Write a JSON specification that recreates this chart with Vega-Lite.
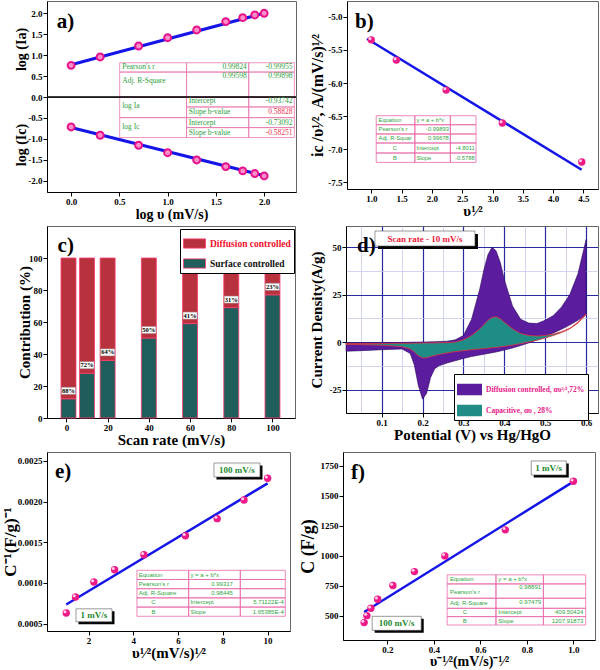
{
"$schema":"https://vega.github.io/schema/vega-lite/v6.json",
"padding":0,
"background":"#ffffff",
"spacing":3,
"resolve":{"legend":{"color":"independent","fill":"independent"}},
"datasets":{
 "aIa":[{"x":0,"y":0.755},{"x":0.301,"y":0.955},{"x":0.699,"y":1.217},{"x":1,"y":1.415},{"x":1.301,"y":1.6},{"x":1.602,"y":1.798},{"x":1.778,"y":1.893},{"x":1.903,"y":1.957},{"x":2,"y":1.997}],
 "aIc":[{"x":0,"y":-0.716},{"x":0.301,"y":-0.914},{"x":0.699,"y":-1.153},{"x":1,"y":-1.33},{"x":1.301,"y":-1.504},{"x":1.602,"y":-1.663},{"x":1.778,"y":-1.766},{"x":1.903,"y":-1.83},{"x":2,"y":-1.885}],
 "bPts":[{"x":1,"y":-5.347},{"x":1.414,"y":-5.653},{"x":2.236,"y":-6.106},{"x":3.162,"y":-6.603},{"x":4.472,"y":-7.192}],
 "ePts":[{"x":1,"y":0.000631},{"x":1.414,"y":0.000828},{"x":2.236,"y":0.001013},{"x":3.162,"y":0.001163},{"x":4.472,"y":0.001348},{"x":6.325,"y":0.00158},{"x":7.746,"y":0.001791},{"x":8.944,"y":0.00202},{"x":10,"y":0.002287}],
 "fPts":[{"x":1,"y":1620},{"x":0.7071,"y":1215},{"x":0.4472,"y":998},{"x":0.3162,"y":867},{"x":0.2236,"y":751},{"x":0.1581,"y":636},{"x":0.1291,"y":561},{"x":0.1118,"y":500},{"x":0.1,"y":442}],
 "cv":[
  {"x":0.013,"ou":-0.4,"ol":-4.8,"iu":-0.7,"il":-1.2},
  {"x":0.05,"ou":-0.4,"ol":-4.5,"iu":-0.7,"il":-1.3},
  {"x":0.1,"ou":-0.3,"ol":-4.0,"iu":-0.7,"il":-1.6},
  {"x":0.15,"ou":-0.2,"ol":-3.6,"iu":-0.6,"il":-2.4},
  {"x":0.17,"ou":-0.1,"ol":-6.0,"iu":-0.6,"il":-3.6},
  {"x":0.18,"ou":0,"ol":-12,"iu":-0.5,"il":-5.2},
  {"x":0.19,"ou":0,"ol":-23,"iu":-0.5,"il":-7.2},
  {"x":0.2,"ou":0.1,"ol":-30,"iu":-0.5,"il":-8.3},
  {"x":0.21,"ou":0.1,"ol":-27,"iu":-0.4,"il":-8.2},
  {"x":0.22,"ou":0.2,"ol":-18.5,"iu":-0.4,"il":-7.6},
  {"x":0.23,"ou":0.2,"ol":-14,"iu":-0.4,"il":-7.0},
  {"x":0.24,"ou":0.3,"ol":-12.5,"iu":-0.3,"il":-6.5},
  {"x":0.26,"ou":0.5,"ol":-11,"iu":-0.3,"il":-5.7},
  {"x":0.28,"ou":1.2,"ol":-9.8,"iu":0,"il":-5.0},
  {"x":0.3,"ou":3.5,"ol":-8.6,"iu":1.2,"il":-4.5},
  {"x":0.32,"ou":12,"ol":-7.6,"iu":3.5,"il":-4.0},
  {"x":0.34,"ou":28,"ol":-6.8,"iu":7,"il":-3.6},
  {"x":0.35,"ou":38,"ol":-6.4,"iu":9.2,"il":-3.4},
  {"x":0.36,"ou":46,"ol":-6.0,"iu":11.5,"il":-3.2},
  {"x":0.37,"ou":50,"ol":-5.6,"iu":13,"il":-3.0},
  {"x":0.38,"ou":48,"ol":-5.2,"iu":13.3,"il":-2.8},
  {"x":0.39,"ou":42,"ol":-4.7,"iu":12.3,"il":-2.5},
  {"x":0.4,"ou":33,"ol":-4.2,"iu":10.5,"il":-2.2},
  {"x":0.42,"ou":19,"ol":-3.1,"iu":7,"il":-1.6},
  {"x":0.44,"ou":12,"ol":-1.8,"iu":4.5,"il":-0.8},
  {"x":0.46,"ou":10,"ol":-0.4,"iu":3.5,"il":0},
  {"x":0.48,"ou":9.8,"ol":1.2,"iu":3.2,"il":1},
  {"x":0.5,"ou":11.5,"ol":3,"iu":3.5,"il":2.2},
  {"x":0.52,"ou":14,"ol":4.8,"iu":4.3,"il":3.5},
  {"x":0.54,"ou":18.5,"ol":6.8,"iu":5.5,"il":5},
  {"x":0.56,"ou":25,"ol":9,"iu":7.3,"il":7},
  {"x":0.58,"ou":36,"ol":11.5,"iu":10.5,"il":10},
  {"x":0.6,"ou":54,"ol":14.5,"iu":14.8,"il":14.5}
 ]
},
"config":{
 "view":{"stroke":"#666666","strokeWidth":1},
 "font":"Liberation Serif",
 "axis":{"labelFont":"Liberation Serif","labelFontWeight":"bold","labelFontSize":9,"labelColor":"#000","titleFont":"Liberation Serif","titleFontWeight":"bold","titleColor":"#000","tickColor":"#000","tickSize":4,"domainColor":"#000","labelPadding":1,"grid":false,"labelExpr":"replace(datum.label, '\u2212', '-')"}
},
"vconcat":[
 {"spacing":10,"hconcat":[
  {"spacing":0,"bounds":"flush","vconcat":[
   {"width":249,"height":96,
    "encoding":{
     "x":{"field":"x","type":"quantitative","scale":{"domain":[-0.25,2.33],"nice":false,"zero":false},"axis":null},
     "y":{"field":"y","type":"quantitative","scale":{"domain":[0,2.29],"nice":false,"zero":false},"axis":{"values":[0.5,1,1.5,2],"format":".1f","title":"log (Ia)","titleFontSize":14,"minExtent":18,"maxExtent":18,"titlePadding":1}}
    },
    "layer":[
     {"data":{"values":[{"x":0.503,"x2":1.196,"y":0.595,"y2":0.817},{"x":1.196,"x2":1.84,"y":0.595,"y2":0.817},{"x":1.84,"x2":2.313,"y":0.595,"y2":0.817},{"x":0.503,"x2":1.196,"y":0,"y2":0.595},{"x":1.196,"x2":1.84,"y":0,"y2":0.595},{"x":1.84,"x2":2.313,"y":0,"y2":0.595}]},
      "mark":{"type":"rect","fill":"#ffffff","fillOpacity":0,"stroke":"#ea7ab0","strokeWidth":0.8},
      "encoding":{"x2":{"field":"x2"},"y2":{"field":"y2"}}},
     {"data":{"values":[{"x":0.53,"y":0.706,"t":"Pearson's r"},{"x":0.53,"y":0.38,"t":"Adj. R-Square"}]},
      "mark":{"type":"text","align":"left","baseline":"middle","font":"Liberation Serif","fontSize":7.5,"color":"#2e9e3e"},
      "encoding":{"text":{"field":"t"}}},
     {"data":{"values":[{"x":1.82,"y":0.706,"t":"0.99824"},{"x":2.295,"y":0.706,"t":"-0.99955"},{"x":1.82,"y":0.5,"t":"0.99598"},{"x":2.295,"y":0.5,"t":"0.99898"}]},
      "mark":{"type":"text","align":"right","baseline":"middle","font":"Liberation Serif","fontSize":7.5,"color":"#2e9e3e"},
      "encoding":{"text":{"field":"t"}}},
     {"data":{"values":[{"x":0,"y":0.77},{"x":2,"y":2.0}]},"mark":{"type":"line","color":"#1515e8","strokeWidth":3}},
     {"data":{"name":"aIa"},"mark":{"type":"circle","size":48,"fill":"#ff8ec8","stroke":"#e6128c","strokeWidth":2,"opacity":1}},
     {"data":{"values":[{"x":-0.149,"y":1.646,"t":"a)"}]},"mark":{"type":"text","align":"left","baseline":"alphabetic","font":"Liberation Serif","fontWeight":"bold","fontSize":21,"color":"#000"},"encoding":{"text":{"field":"t"}}}
    ]
   },
   {"width":249,"height":95,
    "encoding":{
     "x":{"field":"x","type":"quantitative","scale":{"domain":[-0.25,2.33],"nice":false,"zero":false},"axis":{"values":[0,0.5,1,1.5,2],"format":".1f","title":"log υ (mV/s)","titleFontSize":14,"titlePadding":1}},
     "y":{"field":"y","type":"quantitative","scale":{"domain":[-2.27,0],"nice":false,"zero":false},"axis":{"values":[0,-0.5,-1,-1.5,-2],"format":".1f","title":"log (Ic)","titleFontSize":14,"minExtent":18,"maxExtent":18,"titlePadding":1}}
    },
    "layer":[
     {"data":{"values":[{"x":0.503,"x2":1.196,"y":-0.493,"y2":0},{"x":0.503,"x2":1.196,"y":-0.969,"y2":-0.493},{"x":1.196,"x2":1.84,"y":-0.238,"y2":0},{"x":1.196,"x2":1.84,"y":-0.493,"y2":-0.238},{"x":1.196,"x2":1.84,"y":-0.731,"y2":-0.493},{"x":1.196,"x2":1.84,"y":-0.969,"y2":-0.731},{"x":1.84,"x2":2.313,"y":-0.238,"y2":0},{"x":1.84,"x2":2.313,"y":-0.493,"y2":-0.238},{"x":1.84,"x2":2.313,"y":-0.731,"y2":-0.493},{"x":1.84,"x2":2.313,"y":-0.969,"y2":-0.731}]},
      "mark":{"type":"rect","fill":"#ffffff","fillOpacity":0,"stroke":"#ea7ab0","strokeWidth":0.8},
      "encoding":{"x2":{"field":"x2"},"y2":{"field":"y2"}}},
     {"data":{"values":[{"x":-0.25,"x2":2.33,"y":0}]},"mark":{"type":"rule","color":"#000","strokeWidth":1.6},"encoding":{"x2":{"field":"x2"}}},
     {"data":{"values":[{"x":0.53,"y":-0.22,"t":"log Ia"},{"x":0.53,"y":-0.71,"t":"log Ic"},{"x":1.22,"y":-0.1,"t":"Intercept"},{"x":1.22,"y":-0.366,"t":"Slope b-value"},{"x":1.22,"y":-0.612,"t":"Intercept"},{"x":1.22,"y":-0.85,"t":"Slope b-value"}]},
      "mark":{"type":"text","align":"left","baseline":"middle","font":"Liberation Serif","fontSize":7.5,"color":"#2e9e3e"},
      "encoding":{"text":{"field":"t"}}},
     {"data":{"values":[{"x":2.295,"y":-0.1,"t":"-0.93742"},{"x":2.295,"y":-0.612,"t":"-0.73092"}]},
      "mark":{"type":"text","align":"right","baseline":"middle","font":"Liberation Serif","fontSize":7.5,"color":"#2e9e3e"},
      "encoding":{"text":{"field":"t"}}},
     {"data":{"values":[{"x":2.295,"y":-0.366,"t":"0.58828"},{"x":2.295,"y":-0.85,"t":"-0.58251"}]},
      "mark":{"type":"text","align":"right","baseline":"middle","font":"Liberation Serif","fontSize":7.5,"color":"#f0304a"},
      "encoding":{"text":{"field":"t"}}},
     {"data":{"values":[{"x":0,"y":-0.73},{"x":2,"y":-1.88}]},"mark":{"type":"line","color":"#1515e8","strokeWidth":3}},
     {"data":{"name":"aIc"},"mark":{"type":"circle","size":48,"fill":"#ff8ec8","stroke":"#e6128c","strokeWidth":2,"opacity":1}}
    ]
   }
  ]},
  {"width":251,"height":188,
   "encoding":{
    "x":{"field":"x","type":"quantitative","scale":{"domain":[0.6,4.74],"nice":false,"zero":false},"axis":{"values":[1,1.5,2,2.5,3,3.5,4,4.5],"format":".1f","title":"υ¹⁄²","titleFontSize":15,"titlePadding":0}},
    "y":{"field":"y","type":"quantitative","scale":{"domain":[-7.6,-4.76],"nice":false,"zero":false},"axis":{"values":[-7.5,-7,-6.5,-6,-5.5,-5],"format":".1f","title":"ic /υ¹⁄², A/(mV/s)¹⁄²","titleFontSize":16,"minExtent":20,"maxExtent":20,"titlePadding":2}}
   },
   "layer":[
    {"data":{"values":[
      {"x":1.082,"x2":1.719,"y":-6.629,"y2":-6.493},{"x":1.719,"x2":2.305,"y":-6.629,"y2":-6.493},{"x":2.305,"x2":2.728,"y":-6.629,"y2":-6.493},
      {"x":1.082,"x2":1.719,"y":-6.769,"y2":-6.629},{"x":1.719,"x2":2.305,"y":-6.769,"y2":-6.629},{"x":2.305,"x2":2.728,"y":-6.769,"y2":-6.629},
      {"x":1.082,"x2":1.719,"y":-6.905,"y2":-6.769},{"x":1.719,"x2":2.305,"y":-6.905,"y2":-6.769},{"x":2.305,"x2":2.728,"y":-6.905,"y2":-6.769},
      {"x":1.082,"x2":1.719,"y":-7.056,"y2":-6.905},{"x":1.719,"x2":2.305,"y":-7.056,"y2":-6.905},{"x":2.305,"x2":2.728,"y":-7.056,"y2":-6.905},
      {"x":1.082,"x2":1.719,"y":-7.198,"y2":-7.056},{"x":1.719,"x2":2.305,"y":-7.198,"y2":-7.056},{"x":2.305,"x2":2.728,"y":-7.198,"y2":-7.056}]},
     "mark":{"type":"rect","fill":"#ffffff","fillOpacity":0,"stroke":"#ea6aa8","strokeWidth":0.8},
     "encoding":{"x2":{"field":"x2"},"y2":{"field":"y2"}}},
    {"data":{"values":[{"x":1.12,"y":-6.561,"t":"Equation"},{"x":1.745,"y":-6.561,"t":"y = a + b*x"},{"x":1.12,"y":-6.699,"t":"Pearson's r"},{"x":1.12,"y":-6.837,"t":"Adj. R-Squar"},{"x":1.745,"y":-6.98,"t":"Intercept"},{"x":1.745,"y":-7.127,"t":"Slope"}]},
     "mark":{"type":"text","align":"left","baseline":"middle","font":"Liberation Sans","fontSize":5.8,"color":"#33a344"},
     "encoding":{"text":{"field":"t"}}},
    {"data":{"values":[{"x":2.28,"y":-6.699,"t":"-0.99893"},{"x":2.28,"y":-6.837,"t":"0.99678"},{"x":2.707,"y":-6.98,"t":"-4.8011"},{"x":2.707,"y":-7.127,"t":"-0.5788"}]},
     "mark":{"type":"text","align":"right","baseline":"middle","font":"Liberation Sans","fontSize":5.8,"color":"#33a344"},
     "encoding":{"text":{"field":"t"}}},
    {"data":{"values":[{"x":1.39,"y":-6.98,"t":"C"},{"x":1.39,"y":-7.127,"t":"B"}]},
     "mark":{"type":"text","align":"center","baseline":"middle","font":"Liberation Sans","fontSize":5.8,"color":"#33a344"},
     "encoding":{"text":{"field":"t"}}},
    {"data":{"values":[{"x":0.93,"y":-5.33},{"x":4.47,"y":-7.31}]},"mark":{"type":"line","color":"#1515e8","strokeWidth":2.5}},
    {"data":{"name":"bPts"},"mark":{"type":"circle","size":55,"fill":"#ee1a88","opacity":1}},
    {"data":{"name":"bPts"},"mark":{"type":"circle","size":9,"fill":"#ffd2ea","opacity":1,"xOffset":-1.3,"yOffset":-1.3}},
    {"data":{"values":[{"x":0.732,"y":-5.167,"t":"b)"}]},"mark":{"type":"text","align":"left","baseline":"alphabetic","font":"Liberation Serif","fontWeight":"bold","fontSize":21,"color":"#000"},"encoding":{"text":{"field":"t"}}}
   ]
  }
 ]},
 {"spacing":12,"resolve":{"legend":{"color":"independent","fill":"independent"}},"hconcat":[
  {"width":248,"height":192,
   "encoding":{
    "x":{"field":"rate","type":"quantitative","scale":{"domain":[-7,108.5],"nice":false,"zero":false},"axis":{"values":[0,20,40,60,80,100],"title":"Scan rate (mV/s)","titleFontSize":15,"titlePadding":0}},
    "y":{"field":"pct","type":"quantitative","scale":{"domain":[0,120],"nice":false,"zero":false},"axis":{"values":[0,20,40,60,80,100],"title":"Contribution (%)","titleFontSize":15,"minExtent":15,"maxExtent":15,"titlePadding":0}}
   },
   "layer":[
    {"data":{"values":[
      {"rate":1,"type":"Surface controlled","pct":12},{"rate":1,"type":"Diffusion controlled","pct":88},
      {"rate":10,"type":"Surface controlled","pct":28},{"rate":10,"type":"Diffusion controlled","pct":72},
      {"rate":20,"type":"Surface controlled","pct":36},{"rate":20,"type":"Diffusion controlled","pct":64},
      {"rate":40,"type":"Surface controlled","pct":50},{"rate":40,"type":"Diffusion controlled","pct":50},
      {"rate":60,"type":"Surface controlled","pct":59},{"rate":60,"type":"Diffusion controlled","pct":41},
      {"rate":80,"type":"Surface controlled","pct":69},{"rate":80,"type":"Diffusion controlled","pct":31},
      {"rate":100,"type":"Surface controlled","pct":77},{"rate":100,"type":"Diffusion controlled","pct":23}]},
     "mark":{"type":"bar","width":15,"stroke":"#ff3c6e","strokeWidth":0.8},
     "encoding":{
      "color":{"field":"type","type":"nominal","scale":{"domain":["Diffusion controlled","Surface controlled"],"range":["#b8323e","#1f5e5b"]},
        "legend":{"orient":"none","legendX":133,"legendY":3,"title":null,"fillColor":"#ffffff","strokeColor":"#000000","padding":3,"symbolType":"M-1,-0.42H1V0.42H-1Z","symbolSize":484,"symbolStrokeColor":"#ff3c6e","symbolStrokeWidth":0.8,"labelFont":"Liberation Serif","labelFontWeight":"bold","labelFontSize":9.5,"rowPadding":2,
          "encode":{"labels":{"update":{"fill":{"signal":"datum.label === 'Diffusion controlled' ? '#f0102a' : '#111111'"}}}}}},
      "order":{"field":"type","sort":"descending"}
     }},
    {"data":{"values":[{"rate":1,"pct":12,"t":"88%"},{"rate":10,"pct":28,"t":"72%"},{"rate":20,"pct":36,"t":"64%"},{"rate":40,"pct":50,"t":"50%"},{"rate":60,"pct":59,"t":"41%"},{"rate":80,"pct":69,"t":"31%"},{"rate":100,"pct":77,"t":"23%"}]},
     "layer":[
      {"mark":{"type":"point","shape":"M-1,-0.5H1V0.5H-1Z","size":196,"filled":true,"fill":"#ffffff","stroke":"#999999","strokeWidth":0.5,"opacity":1,"yOffset":-8}},
      {"mark":{"type":"text","font":"Liberation Serif","fontWeight":"bold","fontSize":6.5,"color":"#000","baseline":"middle","yOffset":-8},"encoding":{"text":{"field":"t"}}}
     ]},
    {"data":{"values":[{"rate":-4.29,"pct":103.6,"t":"c)"}]},"mark":{"type":"text","align":"left","baseline":"alphabetic","font":"Liberation Serif","fontWeight":"bold","fontSize":21,"color":"#000"},"encoding":{"text":{"field":"t"}}}
   ]
  },
  {"width":252,"height":187,
   "resolve":{"axis":{"x":"independent","y":"independent"}},
   "layer":[
    {"data":{"name":"cv"},"mark":{"type":"area","stroke":"#2a0860","strokeWidth":0.6},
     "encoding":{
      "x":{"field":"x","type":"quantitative","scale":{"domain":[0.013,0.629],"nice":false,"zero":false},"axis":{"orient":"bottom","values":[0.05,0.1,0.15,0.2,0.25,0.3,0.35,0.4,0.45,0.5,0.55,0.6],"grid":true,"gridColor":"#c6c6ee","gridWidth":0.8,"labels":false,"ticks":false,"domain":false,"title":null,"minExtent":0,"maxExtent":0}},
      "y":{"field":"ou","type":"quantitative","scale":{"domain":[-37.3,61.1],"nice":false,"zero":false},"axis":{"orient":"left","values":[-25,-12.5,0,12.5,25,37.5,50],"grid":true,"gridColor":"#c6c6ee","gridWidth":0.8,"labels":false,"ticks":false,"domain":false,"title":null,"minExtent":0,"maxExtent":0}},
      "y2":{"field":"ol"},
      "fill":{"datum":"Diffusion controlled, αυ¹⁄²,72%","scale":{"domain":["Diffusion controlled, αυ¹⁄²,72%","Capacitive, αυ , 28%"],"range":["#5b1c9e","#1f8c86"]},
        "legend":{"orient":"none","legendX":108,"legendY":148,"title":null,"fillColor":"#ffffff","strokeColor":"#000000","padding":3,"symbolType":"M-1,-0.46H1V0.46H-1Z","symbolSize":625,"symbolStrokeWidth":0,"labelFont":"Liberation Serif","labelFontWeight":"bold","labelFontSize":7.5,"labelColor":"#e8208a","rowPadding":2}}
     }},
    {"data":{"name":"cv"},"mark":{"type":"area","stroke":"#e8303a","strokeWidth":0.8},
     "encoding":{
      "x":{"field":"x","type":"quantitative","scale":{"domain":[0.013,0.629],"nice":false,"zero":false},"axis":{"orient":"bottom","values":[0.1,0.2,0.3,0.4,0.5,0.6],"format":".1f","grid":true,"gridColor":"#2a2aa0","gridWidth":1.2,"title":"Potential (V) vs Hg/HgO","titleFontSize":15,"titlePadding":0}},
      "y":{"field":"iu","type":"quantitative","scale":{"domain":[-37.3,61.1],"nice":false,"zero":false},"axis":{"orient":"left","values":[-25,0,25,50],"grid":true,"gridColor":"#2a2aa0","gridWidth":1.2,"title":"Current Density(A/g)","titleFontSize":15,"minExtent":20,"maxExtent":20,"titlePadding":2}},
      "y2":{"field":"il"},
      "fill":{"datum":"Capacitive, αυ , 28%"}
     }},
    {"data":{"values":[{"x":0.206,"y":54.5,"t":"Scan rate - 10 mV/s"}]},
     "encoding":{
      "x":{"field":"x","type":"quantitative","scale":{"domain":[0.013,0.629],"nice":false,"zero":false},"axis":null},
      "y":{"field":"y","type":"quantitative","scale":{"domain":[-37.3,61.1],"nice":false,"zero":false},"axis":null}
     },
     "layer":[
      {"mark":{"type":"point","shape":"M-1,-0.15H1V0.15H-1Z","size":10000,"filled":true,"fill":"#000","opacity":1,"xOffset":3,"yOffset":3}},
      {"mark":{"type":"point","shape":"M-1,-0.15H1V0.15H-1Z","size":10000,"filled":true,"fill":"#fff","stroke":"#555","strokeWidth":0.6,"opacity":1}},
      {"mark":{"type":"text","font":"Liberation Serif","fontWeight":"bold","fontSize":9,"color":"#f01a3a","baseline":"middle"},"encoding":{"text":{"field":"t"}}}
     ]},
    {"data":{"values":[{"x":0.04,"y":47.4,"t":"d)"}]},
     "mark":{"type":"text","align":"left","baseline":"alphabetic","font":"Liberation Serif","fontWeight":"bold","fontSize":21,"color":"#000"},
     "encoding":{
      "x":{"field":"x","type":"quantitative","scale":{"domain":[0.013,0.629],"nice":false,"zero":false},"axis":null},
      "y":{"field":"y","type":"quantitative","scale":{"domain":[-37.3,61.1],"nice":false,"zero":false},"axis":null},
      "text":{"field":"t"}
     }}
   ]
  }
 ]},
 {"spacing":7,"hconcat":[
  {"width":243,"height":179,
   "encoding":{
    "x":{"field":"x","type":"quantitative","scale":{"domain":[0.14,11.0],"nice":false,"zero":false},"axis":{"values":[2,4,6,8,10],"title":"υ¹⁄²(mV/s)¹⁄²","titleFontSize":15,"titlePadding":0}},
    "y":{"field":"y","type":"quantitative","scale":{"domain":[0.00041,0.00261],"nice":false,"zero":false},"axis":{"values":[0.0005,0.001,0.0015,0.002,0.0025],"format":".4f","title":"C⁻¹(F/g)⁻¹","titleFontSize":17,"minExtent":27,"maxExtent":27,"titlePadding":1}}
   },
   "layer":[
    {"data":{"values":[
      {"x":4.16,"x2":6.47,"y":0.001043,"y2":0.001156},{"x":6.47,"x2":8.78,"y":0.001043,"y2":0.001156},{"x":8.78,"x2":10.79,"y":0.001043,"y2":0.001156},
      {"x":4.16,"x2":6.47,"y":0.00093,"y2":0.001043},{"x":6.47,"x2":8.78,"y":0.00093,"y2":0.001043},{"x":8.78,"x2":10.79,"y":0.00093,"y2":0.001043},
      {"x":4.16,"x2":6.47,"y":0.000817,"y2":0.00093},{"x":6.47,"x2":8.78,"y":0.000817,"y2":0.00093},{"x":8.78,"x2":10.79,"y":0.000817,"y2":0.00093},
      {"x":4.16,"x2":6.47,"y":0.000704,"y2":0.000817},{"x":6.47,"x2":8.78,"y":0.000704,"y2":0.000817},{"x":8.78,"x2":10.79,"y":0.000704,"y2":0.000817},
      {"x":4.16,"x2":6.47,"y":0.000591,"y2":0.000704},{"x":6.47,"x2":8.78,"y":0.000591,"y2":0.000704},{"x":8.78,"x2":10.79,"y":0.000591,"y2":0.000704}]},
     "mark":{"type":"rect","fill":"#ffffff","fillOpacity":0,"stroke":"#ea6aa8","strokeWidth":0.8},
     "encoding":{"x2":{"field":"x2"},"y2":{"field":"y2"}}},
    {"data":{"values":[{"x":4.24,"y":0.0010995,"t":"Equation"},{"x":6.55,"y":0.0010995,"t":"y = a + b*x"},{"x":4.24,"y":0.0009865,"t":"Pearson's r"},{"x":4.24,"y":0.0008735,"t":"Adj. R-Square"},{"x":6.55,"y":0.0007605,"t":"Intercept"},{"x":6.55,"y":0.0006475,"t":"Slope"}]},
     "mark":{"type":"text","align":"left","baseline":"middle","font":"Liberation Sans","fontSize":6,"color":"#33a344"},
     "encoding":{"text":{"field":"t"}}},
    {"data":{"values":[{"x":8.45,"y":0.0009865,"t":"0.99317"},{"x":8.45,"y":0.0008735,"t":"0.98445"},{"x":10.72,"y":0.0007605,"t":"5.71122E-4"},{"x":10.72,"y":0.0006475,"t":"1.65385E-4"}]},
     "mark":{"type":"text","align":"right","baseline":"middle","font":"Liberation Sans","fontSize":6,"color":"#33a344"},
     "encoding":{"text":{"field":"t"}}},
    {"data":{"values":[{"x":4.9,"y":0.0007605,"t":"C"},{"x":4.9,"y":0.0006475,"t":"B"}]},
     "mark":{"type":"text","align":"center","baseline":"middle","font":"Liberation Sans","fontSize":6,"color":"#33a344"},
     "encoding":{"text":{"field":"t"}}},
    {"data":{"values":[{"x":1,"y":0.000736},{"x":10,"y":0.002225}]},"mark":{"type":"line","color":"#1515e8","strokeWidth":2.5}},
    {"data":{"name":"ePts"},"mark":{"type":"circle","size":55,"fill":"#ee1a88","opacity":1}},
    {"data":{"name":"ePts"},"mark":{"type":"circle","size":9,"fill":"#ffd2ea","opacity":1,"xOffset":-1.3,"yOffset":-1.3}},
    {"data":{"values":[{"x":8.63,"y":0.002389,"t":"100 mV/s"}]},
     "layer":[
      {"mark":{"type":"point","shape":"M-1,-0.304H1V0.304H-1Z","size":2116,"filled":true,"fill":"#000","opacity":1,"xOffset":2.5,"yOffset":2.5}},
      {"mark":{"type":"point","shape":"M-1,-0.304H1V0.304H-1Z","size":2116,"filled":true,"fill":"#fff","stroke":"#555","strokeWidth":0.6,"opacity":1}}
     ]},
    {"data":{"values":[{"x":2.24,"y":0.000603,"t":"1 mV/s"}]},
     "layer":[
      {"mark":{"type":"point","shape":"M-1,-0.36H1V0.36H-1Z","size":1296,"filled":true,"fill":"#000","opacity":1,"xOffset":2.5,"yOffset":2.5}},
      {"mark":{"type":"point","shape":"M-1,-0.36H1V0.36H-1Z","size":1296,"filled":true,"fill":"#fff","stroke":"#555","strokeWidth":0.6,"opacity":1}}
     ]},
    {"data":{"values":[{"x":8.63,"y":0.002389,"t":"100 mV/s"},{"x":2.24,"y":0.000603,"t":"1 mV/s"}]},
     "mark":{"type":"text","font":"Liberation Serif","fontWeight":"bold","fontSize":9,"color":"#1e8a30","baseline":"middle"},
     "encoding":{"text":{"field":"t"}}},
    {"data":{"values":[{"x":0.497,"y":0.00229,"t":"e)"}]},"mark":{"type":"text","align":"left","baseline":"alphabetic","font":"Liberation Serif","fontWeight":"bold","fontSize":21,"color":"#000"},"encoding":{"text":{"field":"t"}}}
   ]
  },
  {"width":252,"height":188,
   "encoding":{
    "x":{"field":"x","type":"quantitative","scale":{"domain":[0.009,1.093],"nice":false,"zero":false},"axis":{"values":[0.2,0.4,0.6,0.8,1.0],"format":".1f","title":"υ⁻¹⁄²(mV/s)⁻¹⁄²","titleFontSize":14,"titlePadding":0}},
    "y":{"field":"y","type":"quantitative","scale":{"domain":[297,1864],"nice":false,"zero":false},"axis":{"values":[500,750,1000,1250,1500,1750],"format":"d","title":"C (F/g)","titleFontSize":18,"minExtent":24,"maxExtent":24,"titlePadding":2}}
   },
   "layer":[
    {"data":{"values":[
      {"x":0.457,"x2":0.667,"y":764.5,"y2":840},{"x":0.667,"x2":0.871,"y":764.5,"y2":840},{"x":0.871,"x2":1.053,"y":764.5,"y2":840},
      {"x":0.457,"x2":0.667,"y":645,"y2":764.5},{"x":0.667,"x2":0.871,"y":645,"y2":764.5},{"x":0.871,"x2":1.053,"y":645,"y2":764.5},
      {"x":0.457,"x2":0.667,"y":561,"y2":645},{"x":0.667,"x2":0.871,"y":561,"y2":645},{"x":0.871,"x2":1.053,"y":561,"y2":645},
      {"x":0.457,"x2":0.667,"y":492,"y2":561},{"x":0.667,"x2":0.871,"y":492,"y2":561},{"x":0.871,"x2":1.053,"y":492,"y2":561},
      {"x":0.457,"x2":0.667,"y":422,"y2":492},{"x":0.667,"x2":0.871,"y":422,"y2":492},{"x":0.871,"x2":1.053,"y":422,"y2":492}]},
     "mark":{"type":"rect","fill":"#ffffff","fillOpacity":0,"stroke":"#ea6aa8","strokeWidth":0.8},
     "encoding":{"x2":{"field":"x2"},"y2":{"field":"y2"}}},
    {"data":{"values":[{"x":0.469,"y":803,"t":"Equation"},{"x":0.677,"y":803,"t":"y = a + b*x"},{"x":0.469,"y":701,"t":"Pearson's r"},{"x":0.469,"y":603,"t":"Adj. R-Square"},{"x":0.677,"y":530,"t":"Intercept"},{"x":0.677,"y":458,"t":"Slope"}]},
     "mark":{"type":"text","align":"left","baseline":"middle","font":"Liberation Sans","fontSize":6,"color":"#33a344"},
     "encoding":{"text":{"field":"t"}}},
    {"data":{"values":[{"x":0.861,"y":742,"t":"0.98891"},{"x":0.861,"y":617,"t":"0.97479"},{"x":1.043,"y":530,"t":"409.50424"},{"x":1.043,"y":458,"t":"1207.91873"}]},
     "mark":{"type":"text","align":"right","baseline":"middle","font":"Liberation Sans","fontSize":6,"color":"#33a344"},
     "encoding":{"text":{"field":"t"}}},
    {"data":{"values":[{"x":0.533,"y":530,"t":"C"},{"x":0.533,"y":458,"t":"B"}]},
     "mark":{"type":"text","align":"center","baseline":"middle","font":"Liberation Sans","fontSize":6,"color":"#33a344"},
     "encoding":{"text":{"field":"t"}}},
    {"data":{"values":[{"x":0.1,"y":530},{"x":1,"y":1617}]},"mark":{"type":"line","color":"#1515e8","strokeWidth":2.5}},
    {"data":{"name":"fPts"},"mark":{"type":"circle","size":55,"fill":"#ee1a88","opacity":1}},
    {"data":{"name":"fPts"},"mark":{"type":"circle","size":9,"fill":"#ffd2ea","opacity":1,"xOffset":-1.3,"yOffset":-1.3}},
    {"data":{"values":[{"x":0.894,"y":1731,"t":"1 mV/s"}]},
     "layer":[
      {"mark":{"type":"point","shape":"M-1,-0.4H1V0.4H-1Z","size":1225,"filled":true,"fill":"#000","opacity":1,"xOffset":2.5,"yOffset":2.5}},
      {"mark":{"type":"point","shape":"M-1,-0.4H1V0.4H-1Z","size":1225,"filled":true,"fill":"#fff","stroke":"#555","strokeWidth":0.6,"opacity":1}}
     ]},
    {"data":{"values":[{"x":0.24,"y":436,"t":"100 mV/s"}]},
     "layer":[
      {"mark":{"type":"point","shape":"M-1,-0.286H1V0.286H-1Z","size":2401,"filled":true,"fill":"#000","opacity":1,"xOffset":2.5,"yOffset":2.5}},
      {"mark":{"type":"point","shape":"M-1,-0.286H1V0.286H-1Z","size":2401,"filled":true,"fill":"#fff","stroke":"#555","strokeWidth":0.6,"opacity":1}}
     ]},
    {"data":{"values":[{"x":0.894,"y":1731,"t":"1 mV/s"},{"x":0.24,"y":436,"t":"100 mV/s"}]},
     "mark":{"type":"text","font":"Liberation Serif","fontWeight":"bold","fontSize":9,"color":"#1e8a30","baseline":"middle"},
     "encoding":{"text":{"field":"t"}}},
    {"data":{"values":[{"x":0.0435,"y":1638,"t":"f)"}]},"mark":{"type":"text","align":"left","baseline":"alphabetic","font":"Liberation Serif","fontWeight":"bold","fontSize":21,"color":"#000"},"encoding":{"text":{"field":"t"}}}
   ]
  }
 ]}
]
}
